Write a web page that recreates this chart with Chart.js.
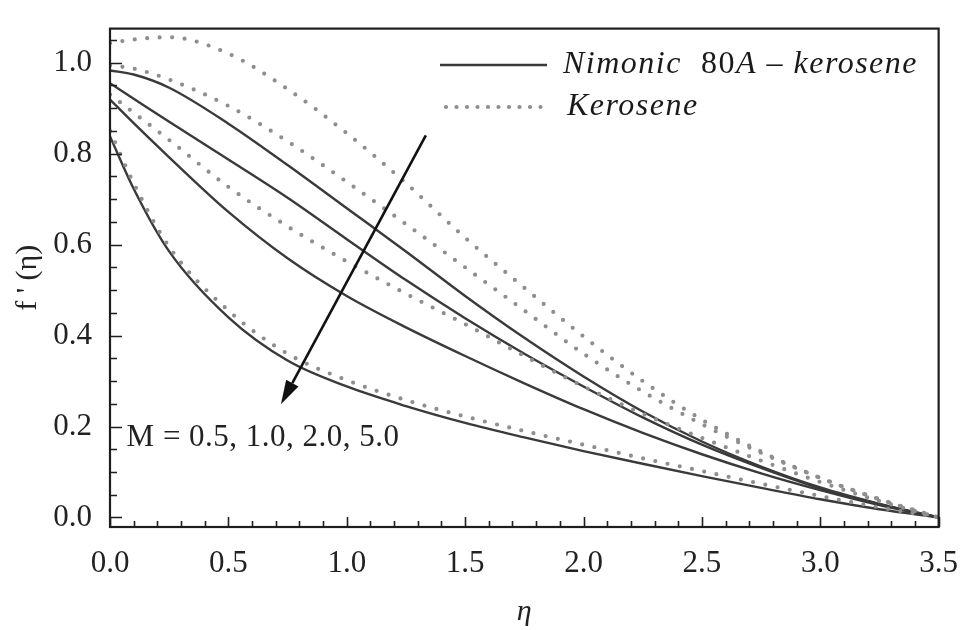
<!DOCTYPE html>
<html>
<head>
<meta charset="utf-8">
<script src="https://cdn.jsdelivr.net/npm/chart.js@4.4.1/dist/chart.umd.min.js"></script>
<style>
  html, body { margin: 0; padding: 0; background: #fff; }
</style>
</head>
<body>
<canvas id="c" width="968" height="630"></canvas>
<script>
// f'(eta) profiles, Nimonic 80A-kerosene (solid) vs kerosene (dotted), M = 0.5, 1, 2, 5

const eta = [0, 0.1, 0.25, 0.5, 0.75, 1.0, 1.25, 1.5, 1.75, 2.0, 2.25, 2.5, 2.75, 3.0, 3.25, 3.5];

const nimM05 = [0.983, 0.974, 0.945, 0.866, 0.775, 0.68, 0.585, 0.487, 0.395, 0.31, 0.233, 0.167, 0.112, 0.066, 0.03, 0.0];
const nimM10 = [0.955, 0.921, 0.87, 0.787, 0.703, 0.612, 0.522, 0.438, 0.36, 0.288, 0.22, 0.16, 0.109, 0.064, 0.029, 0.0];
const nimM20 = [0.919, 0.867, 0.792, 0.672, 0.57, 0.487, 0.418, 0.355, 0.295, 0.238, 0.186, 0.139, 0.097, 0.06, 0.027, 0.0];
const nimM50 = [0.838, 0.723, 0.585, 0.44, 0.345, 0.288, 0.245, 0.208, 0.176, 0.146, 0.118, 0.091, 0.065, 0.04, 0.018, 0.0];

const kerM05 = [1.043, 1.051, 1.056, 1.02, 0.942, 0.845, 0.735, 0.615, 0.505, 0.398, 0.3, 0.215, 0.145, 0.087, 0.04, 0.0];
const kerM10 = [0.994, 0.987, 0.963, 0.905, 0.827, 0.738, 0.645, 0.55, 0.455, 0.36, 0.277, 0.205, 0.142, 0.087, 0.04, 0.0];
const kerM20 = [0.93, 0.89, 0.83, 0.727, 0.64, 0.563, 0.492, 0.425, 0.355, 0.288, 0.228, 0.175, 0.125, 0.078, 0.036, 0.0];
const kerM50 = [0.85, 0.735, 0.595, 0.455, 0.36, 0.302, 0.258, 0.222, 0.19, 0.16, 0.13, 0.102, 0.074, 0.047, 0.022, 0.0];

const xTicks = [0, 0.5, 1.0, 1.5, 2.0, 2.5, 3.0, 3.5];
const yTicks = [0, 0.2, 0.4, 0.6, 0.8, 1.0];

// arrow in data coords (start -> tip), and the M label anchor
const arrowFrom = [1.334, 0.84];
const arrowTo = [0.722, 0.249];
const mLabel = "M = 0.5, 1.0, 2.0, 5.0";
const mLabelAt = [0.07, 0.174];

const SERIF = "'Liberation Serif', 'DejaVu Serif', serif";
const pts = (ys) => eta.map((x, i) => ({ x, y: ys[i] }));

const solid = (label, ys) => ({
  label, data: pts(ys), borderColor: "#3a3a3a", borderWidth: 2.4,
  pointRadius: 0, cubicInterpolationMode: "monotone", fill: false,
});
const dotted = (label, ys) => ({
  label, data: pts(ys), borderColor: "#8e8e8e", borderWidth: 4.2,
  borderDash: [0, 12.5], borderCapStyle: "round",
  pointRadius: 0, cubicInterpolationMode: "monotone", fill: false,
});

// frame, inward ticks, arrow, annotation and legend
const decor = {
  id: "decor",
  afterDatasetsDraw(chart) {
    const { ctx, chartArea: a, scales: { x, y } } = chart;
    ctx.save();
    ctx.strokeStyle = "#1e1e1e";
    ctx.lineWidth = 1.6;
    ctx.beginPath();
    for (let k = 0; k <= 21; k++) {
      const py = Math.round(y.getPixelForValue(k * 0.05)) + 0.5;
      const len = k % 4 === 0 ? 12 : 7;
      ctx.moveTo(a.left, py); ctx.lineTo(a.left + len, py);
    }
    for (let k = 0; k <= 35; k++) {
      const px = Math.round(x.getPixelForValue(k * 0.1)) + 0.5;
      const len = k % 5 === 0 ? 10 : 6;
      ctx.moveTo(px, a.bottom); ctx.lineTo(px, a.bottom - len);
    }
    ctx.stroke();

    ctx.lineWidth = 2.2;
    ctx.strokeRect(a.left, a.top, a.right - a.left, a.bottom - a.top);

    // arrow
    const x0 = x.getPixelForValue(arrowFrom[0]), y0 = y.getPixelForValue(arrowFrom[1]);
    const x1 = x.getPixelForValue(arrowTo[0]), y1 = y.getPixelForValue(arrowTo[1]);
    const ang = Math.atan2(y1 - y0, x1 - x0);
    const hl = 24, hw = 7;
    const bx = x1 - hl * Math.cos(ang), by = y1 - hl * Math.sin(ang);
    ctx.strokeStyle = "#111";
    ctx.fillStyle = "#111";
    ctx.lineWidth = 2.6;
    ctx.beginPath(); ctx.moveTo(x0, y0); ctx.lineTo(bx, by); ctx.stroke();
    ctx.beginPath();
    ctx.moveTo(x1, y1);
    ctx.lineTo(bx + hw * Math.sin(ang), by - hw * Math.cos(ang));
    ctx.lineTo(bx - hw * Math.sin(ang), by + hw * Math.cos(ang));
    ctx.closePath(); ctx.fill();

    // M label
    ctx.fillStyle = "#222";
    ctx.font = `31px ${SERIF}`;
    ctx.textBaseline = "middle";
    ctx.textAlign = "left";
    ctx.letterSpacing = "0.5px";
    ctx.fillText(mLabel, x.getPixelForValue(mLabelAt[0]), y.getPixelForValue(mLabelAt[1]));

    // legend
    ctx.strokeStyle = "#3a3a3a"; ctx.lineWidth = 2.4; ctx.setLineDash([]);
    ctx.beginPath(); ctx.moveTo(440, 65); ctx.lineTo(547, 65); ctx.stroke();
    ctx.strokeStyle = "#8e8e8e"; ctx.lineWidth = 4.2; ctx.lineCap = "round";
    ctx.setLineDash([0, 10.5]);
    ctx.beginPath(); ctx.moveTo(446, 107); ctx.lineTo(547, 107); ctx.stroke();
    ctx.setLineDash([]);

    ctx.fillStyle = "#1a1a1a";
    ctx.letterSpacing = "1.5px";
    const parts = [["Nimonic  ", "italic"], ["80", "normal"], ["A – kerosene", "italic"]];
    let tx = 563;
    parts.forEach(([t, st]) => {
      ctx.font = `${st} 32px ${SERIF}`;
      ctx.fillText(t, tx, 65);
      tx += ctx.measureText(t).width;
    });
    ctx.font = `italic 32px ${SERIF}`;
    ctx.fillText("Kerosene", 567, 107);
    ctx.restore();
  },
};

new Chart(document.getElementById("c"), {
  type: "line",
  data: {
    datasets: [
      dotted("Kerosene M=0.5", kerM05),
      dotted("Kerosene M=1.0", kerM10),
      dotted("Kerosene M=2.0", kerM20),
      dotted("Kerosene M=5.0", kerM50),
      solid("Nimonic 80A – kerosene M=0.5", nimM05),
      solid("Nimonic 80A – kerosene M=1.0", nimM10),
      solid("Nimonic 80A – kerosene M=2.0", nimM20),
      solid("Nimonic 80A – kerosene M=5.0", nimM50),
    ],
  },
  options: {
    responsive: false, animation: false, devicePixelRatio: 1,
    layout: { padding: { top: 12, right: 24, left: 0, bottom: 0 } },
    plugins: { legend: { display: false }, tooltip: { enabled: false } },
    scales: {
      x: {
        type: "linear", min: 0, max: 3.5,
        afterFit: (s) => { s.height = 103; },
        afterBuildTicks: (s) => { s.ticks = xTicks.map((v) => ({ value: v })); },
        grid: { display: false }, border: { display: false },
        ticks: { padding: 10, color: "#222", font: { family: SERIF, size: 31 },
          callback: (v) => v.toFixed(1), maxRotation: 0, autoSkip: false },
        title: { display: true, text: "η", color: "#222", padding: { top: 0, bottom: 0 },
          font: { family: SERIF, size: 30, style: "italic", lineHeight: 1.2 } },
      },
      y: {
        type: "linear", min: -0.021, max: 1.075,
        afterFit: (s) => { s.width = 110; },
        afterBuildTicks: (s) => { s.ticks = yTicks.map((v) => ({ value: v })); },
        grid: { display: false }, border: { display: false },
        ticks: { padding: 10, color: "#222", font: { family: SERIF, size: 31 },
          callback: (v) => v.toFixed(1), autoSkip: false },
        title: { display: true, text: "f ' (η)", color: "#222", padding: { top: 10, bottom: 0 },
          font: { family: SERIF, size: 30, lineHeight: 1.2 } },
      },
    },
  },
  plugins: [decor],
});
</script>
</body>
</html>
